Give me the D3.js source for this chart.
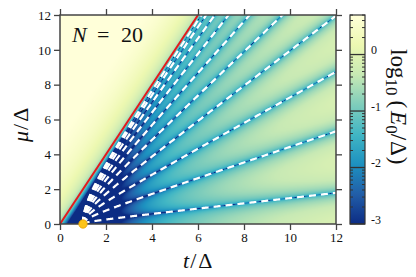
<!DOCTYPE html>
<html>
<head>
<meta charset="utf-8">
<script src="https://cdn.jsdelivr.net/npm/d3@7"></script>
<style>
body { margin: 0; background: #fff; }
svg text { font-family: "Liberation Serif", "Times New Roman", serif; fill: #111; }
</style>
</head>
<body>
<script>
var width = 416, height = 277;

// model parameters (Kitaev chain, open ends)
var N = 20;
var Delta = 1;

var tTicks = [0, 2, 4, 6, 8, 10, 12];
var muTicks = [0, 2, 4, 6, 8, 10, 12];
var cbTicks = [0, -1, -2, -3];
var cbRange = [-3, 0.7];
var palette = ["#ffffd9", "#edf8b1", "#c7e9b4", "#7fcdbb", "#41b6c4", "#1d91c0", "#225ea8", "#0c2c84"];

// zero-energy crossing lines, mu = 2 sqrt(t^2 - Delta^2) cos(k pi/(N+1))
var modeK = [1, 2, 3, 4, 5, 6, 7, 8, 9, 10];

// phase boundary mu = 2t
var edgeT = [0, 6];
var edgeMu = [0, 12];

// marked point
var dotT = [1];
var dotMu = [0];

var serif = "'Liberation Serif', 'Times New Roman', serif";

var x = d3.scaleLinear().domain([0, 12]).range([60, 336]);
var y = d3.scaleLinear().domain([0, 12]).range([224, 15]);
var cbY = d3.scaleLinear().domain(cbRange).range([224, 15]);

var color = d3.scaleLinear()
    .domain(palette.map(function(c, i) {
        return cbRange[1] - i * (cbRange[1] - cbRange[0]) / (palette.length - 1);
    }))
    .range(palette)
    .clamp(true);

var svg = d3.select("body").append("svg")
    .attr("width", width)
    .attr("height", height)
    .attr("font-family", serif);

// ---- lowest BdG energy: smallest singular value of the tridiagonal block ----
function makeFact() {
    return { dl: new Float64Array(N), d: new Float64Array(N), du: new Float64Array(N),
             du2: new Float64Array(N), ip: new Int32Array(N) };
}
var FA = makeFact(), FB = makeFact();

function factor(f, d0, sub, sup) {
    var dl = f.dl, d = f.d, du = f.du, du2 = f.du2, ip = f.ip, n = N, i, fa, tmp;
    for (i = 0; i < n; i++) { d[i] = d0; du2[i] = 0; }
    for (i = 0; i < n - 1; i++) { dl[i] = sub; du[i] = sup; }
    for (i = 0; i < n - 1; i++) {
        if (Math.abs(d[i]) >= Math.abs(dl[i])) {
            ip[i] = i;
            if (d[i] !== 0) { fa = dl[i] / d[i]; dl[i] = fa; d[i + 1] -= fa * du[i]; }
            else dl[i] = 0;
        } else {
            ip[i] = i + 1;
            fa = d[i] / dl[i];
            d[i] = dl[i]; dl[i] = fa;
            tmp = du[i]; du[i] = d[i + 1]; d[i + 1] = tmp - fa * d[i + 1];
            if (i < n - 2) { du2[i] = du[i + 1]; du[i + 1] = -fa * du[i + 1]; }
        }
    }
    for (i = 0; i < n; i++) if (Math.abs(d[i]) < 1e-18) d[i] = 1e-18;
}

function solve(f, b) {
    var dl = f.dl, d = f.d, du = f.du, du2 = f.du2, ip = f.ip, n = N, i, p, tmp;
    for (i = 0; i < n - 1; i++) {
        p = ip[i];
        tmp = b[2 * i + 1 - p] - dl[i] * b[p];
        b[i] = b[p];
        b[i + 1] = tmp;
    }
    b[n - 1] /= d[n - 1];
    b[n - 2] = (b[n - 2] - du[n - 2] * b[n - 1]) / d[n - 2];
    for (i = n - 3; i >= 0; i--) b[i] = (b[i] - du[i] * b[i + 1] - du2[i] * b[i + 2]) / d[i];
}

var vv = new Float64Array(N), bb = new Float64Array(N);
function lowestE(t, mu) {
    factor(FA, mu, t + Delta, t - Delta);
    factor(FB, mu, t - Delta, t + Delta);
    var i, it, s = 0, rq = 1, nrm;
    for (i = 0; i < N; i++) { vv[i] = 1 + 0.3 * Math.cos(1.7 * i); s += vv[i] * vv[i]; }
    s = Math.sqrt(s);
    for (i = 0; i < N; i++) vv[i] /= s;
    for (it = 0; it < 16; it++) {
        for (i = 0; i < N; i++) bb[i] = vv[i];
        solve(FB, bb);
        solve(FA, bb);
        rq = 0; nrm = 0;
        for (i = 0; i < N; i++) { rq += vv[i] * bb[i]; nrm += bb[i] * bb[i]; }
        nrm = Math.sqrt(nrm);
        for (i = 0; i < N; i++) vv[i] = bb[i] / nrm;
    }
    return 1 / Math.sqrt(Math.abs(rq));
}

// ---- heatmap ----
var px0 = x.range()[0], px1 = x.range()[1], py0 = y.range()[1], py1 = y.range()[0];
var W = px1 - px0, H = py1 - py0;
var lut = d3.range(512).map(function(i) {
    return d3.rgb(color(cbRange[0] + i / 511 * (cbRange[1] - cbRange[0])));
});
var cv = document.createElement("canvas");
cv.width = W; cv.height = H;
var ctx = cv.getContext("2d");
var img = ctx.createImageData(W, H);
for (var j = 0; j < H; j++) {
    var mu = y.invert(py0 + j + 0.5);
    for (var i = 0; i < W; i++) {
        var t = x.invert(px0 + i + 0.5);
        var v = Math.log10(lowestE(t, mu) / Delta);
        if (!isFinite(v)) v = cbRange[0];
        v = Math.max(cbRange[0], Math.min(cbRange[1], v));
        var c = lut[Math.round((v - cbRange[0]) / (cbRange[1] - cbRange[0]) * 511)];
        var k = 4 * (j * W + i);
        img.data[k] = c.r; img.data[k + 1] = c.g; img.data[k + 2] = c.b; img.data[k + 3] = 255;
    }
}
ctx.putImageData(img, 0, 0);

svg.append("image")
    .attr("x", px0).attr("y", py0)
    .attr("width", W).attr("height", H)
    .attr("preserveAspectRatio", "none")
    .attr("href", cv.toDataURL());

svg.append("clipPath").attr("id", "plotclip")
    .append("rect")
    .attr("x", px0).attr("y", py0).attr("width", W).attr("height", H);

// dashed zero lines
var tSamples = d3.range(0, 3.3166, 0.01).map(function(u) { return 1 + u * u; });
tSamples.push(12);
var zeroLine = d3.line()
    .x(function(d) { return x(d[0]); })
    .y(function(d) { return y(d[1]); });

svg.append("g").attr("clip-path", "url(#plotclip)")
    .selectAll("path").data(modeK).enter().append("path")
    .attr("d", function(k) {
        var c = Math.cos(k * Math.PI / (N + 1));
        var pts = [];
        for (var q = 0; q < tSamples.length; q++) {
            var tt = tSamples[q];
            var m = 2 * Math.sqrt(Math.max(0, tt * tt - Delta * Delta)) * c;
            pts.push([tt, m]);
            if (m > 12.2) break;
        }
        return zeroLine(pts);
    })
    .attr("fill", "none")
    .attr("stroke", "#fff")
    .attr("stroke-width", 2.2)
    .attr("stroke-dasharray", "7,5");

// phase boundary
svg.append("line")
    .attr("x1", x(edgeT[0])).attr("y1", y(edgeMu[0]))
    .attr("x2", x(edgeT[1])).attr("y2", y(edgeMu[1]))
    .attr("stroke", "#e41a1c")
    .attr("stroke-width", 2);

// frame and axes
var axisColor = "#444";
function styleAxis(g) {
    g.attr("font-family", serif);
    g.select(".domain").remove();
    g.selectAll(".tick line").attr("stroke", axisColor).attr("stroke-width", 1.3);
    g.selectAll(".tick text").attr("font-size", 13).attr("fill", "#111");
}

svg.append("g").attr("transform", "translate(0," + py1 + ")")
    .call(d3.axisBottom(x).tickValues(tTicks).tickSize(6).tickPadding(3).tickFormat(d3.format("d")))
    .call(styleAxis);
svg.append("g").attr("transform", "translate(0," + py0 + ")")
    .call(d3.axisTop(x).tickValues(tTicks).tickSize(6).tickFormat(""))
    .call(styleAxis);
svg.append("g").attr("transform", "translate(" + px0 + ",0)")
    .call(d3.axisLeft(y).tickValues(muTicks).tickSize(6).tickPadding(3).tickFormat(d3.format("d")))
    .call(styleAxis);
svg.append("g").attr("transform", "translate(" + px1 + ",0)")
    .call(d3.axisRight(y).tickValues(muTicks).tickSize(6).tickFormat(""))
    .call(styleAxis);

svg.append("rect")
    .attr("x", px0).attr("y", py0).attr("width", W).attr("height", H)
    .attr("fill", "none").attr("stroke", axisColor).attr("stroke-width", 1.5);

// marked point
svg.selectAll("circle.pt").data(dotT).enter().append("circle")
    .attr("class", "pt")
    .attr("cx", function(d) { return x(d); })
    .attr("cy", function(d, i) { return y(dotMu[i]); })
    .attr("r", 4.2)
    .attr("fill", "#fcc419")
    .attr("stroke", "#e8a200")
    .attr("stroke-width", 0.8);

// N label
var nLab = svg.append("text").attr("y", 42).attr("font-size", 22);
nLab.append("tspan").attr("x", 72).attr("font-style", "italic").text("N");
nLab.append("tspan").attr("x", 97).text("=");
nLab.append("tspan").attr("x", 121).text("20");

// axis labels
var xl = svg.append("text").attr("x", 183).attr("y", 268).attr("font-size", 22);
xl.append("tspan").attr("font-style", "italic").text("t");
xl.append("tspan").attr("dx", 1).text("/");
xl.append("tspan").attr("dx", 2).text("Δ");

var yl = svg.append("text").attr("transform", "translate(28,142) rotate(-90)")
    .attr("font-size", 22);
yl.append("tspan").attr("font-style", "italic").text("μ");
yl.append("tspan").attr("dx", 1).text("/");
yl.append("tspan").attr("dx", 2).text("Δ");

// ---- colorbar ----
var cbx = 350, cbw = 15;
var grad = svg.append("defs").append("linearGradient")
    .attr("id", "cbgrad").attr("x1", 0).attr("x2", 0).attr("y1", 0).attr("y2", 1);
grad.selectAll("stop").data(palette).enter().append("stop")
    .attr("offset", function(d, i) { return i / (palette.length - 1); })
    .attr("stop-color", function(d) { return d; });

svg.append("rect")
    .attr("x", cbx).attr("y", cbY(cbRange[1]))
    .attr("width", cbw).attr("height", cbY(cbRange[0]) - cbY(cbRange[1]))
    .attr("fill", "url(#cbgrad)");

var minor = [];
[-3, -2, -1, 0].forEach(function(dec) {
    for (var m = 2; m <= 9; m++) {
        var v = dec + Math.log10(m);
        if (v < cbRange[1]) minor.push(v);
    }
});
var cbg = svg.append("g").attr("stroke", "#333").attr("stroke-width", 1);
cbg.selectAll("line.ml").data(minor).enter().append("line")
    .attr("x1", cbx).attr("x2", cbx + 3)
    .attr("y1", function(d) { return cbY(d); }).attr("y2", function(d) { return cbY(d); });
cbg.selectAll("line.mr").data(minor).enter().append("line")
    .attr("x1", cbx + cbw - 3).attr("x2", cbx + cbw)
    .attr("y1", function(d) { return cbY(d); }).attr("y2", function(d) { return cbY(d); });
cbg.selectAll("line.maj").data(cbTicks).enter().append("line")
    .attr("x1", cbx).attr("x2", cbx + cbw)
    .attr("stroke-width", 1.3)
    .attr("y1", function(d) { return cbY(d); }).attr("y2", function(d) { return cbY(d); });

svg.append("rect")
    .attr("x", cbx).attr("y", cbY(cbRange[1]))
    .attr("width", cbw).attr("height", cbY(cbRange[0]) - cbY(cbRange[1]))
    .attr("fill", "none").attr("stroke", "#333").attr("stroke-width", 1.2);

svg.selectAll("text.cbt").data(cbTicks).enter().append("text")
    .attr("class", "cbt")
    .attr("x", 371)
    .attr("y", function(d) { return cbY(d) - 0.5; })
    .attr("font-size", 12)
    .text(function(d) { return d === 0 ? "0" : "-" + Math.abs(d); });

var cl = svg.append("text").attr("transform", "translate(391,49) rotate(90)")
    .attr("font-size", 23);
cl.append("tspan").text("log");
cl.append("tspan").attr("font-size", 17).attr("dy", 5).text("10");
cl.append("tspan").attr("dy", -5).attr("dx", 5).text("(");
cl.append("tspan").attr("dx", 3).attr("font-style", "italic").text("E");
cl.append("tspan").attr("font-size", 17).attr("dy", 5).text("0");
cl.append("tspan").attr("dy", -5).text("/");
cl.append("tspan").attr("dx", 1).text("Δ");
cl.append("tspan").attr("dx", 1).text(")");
</script>
</body>
</html>
